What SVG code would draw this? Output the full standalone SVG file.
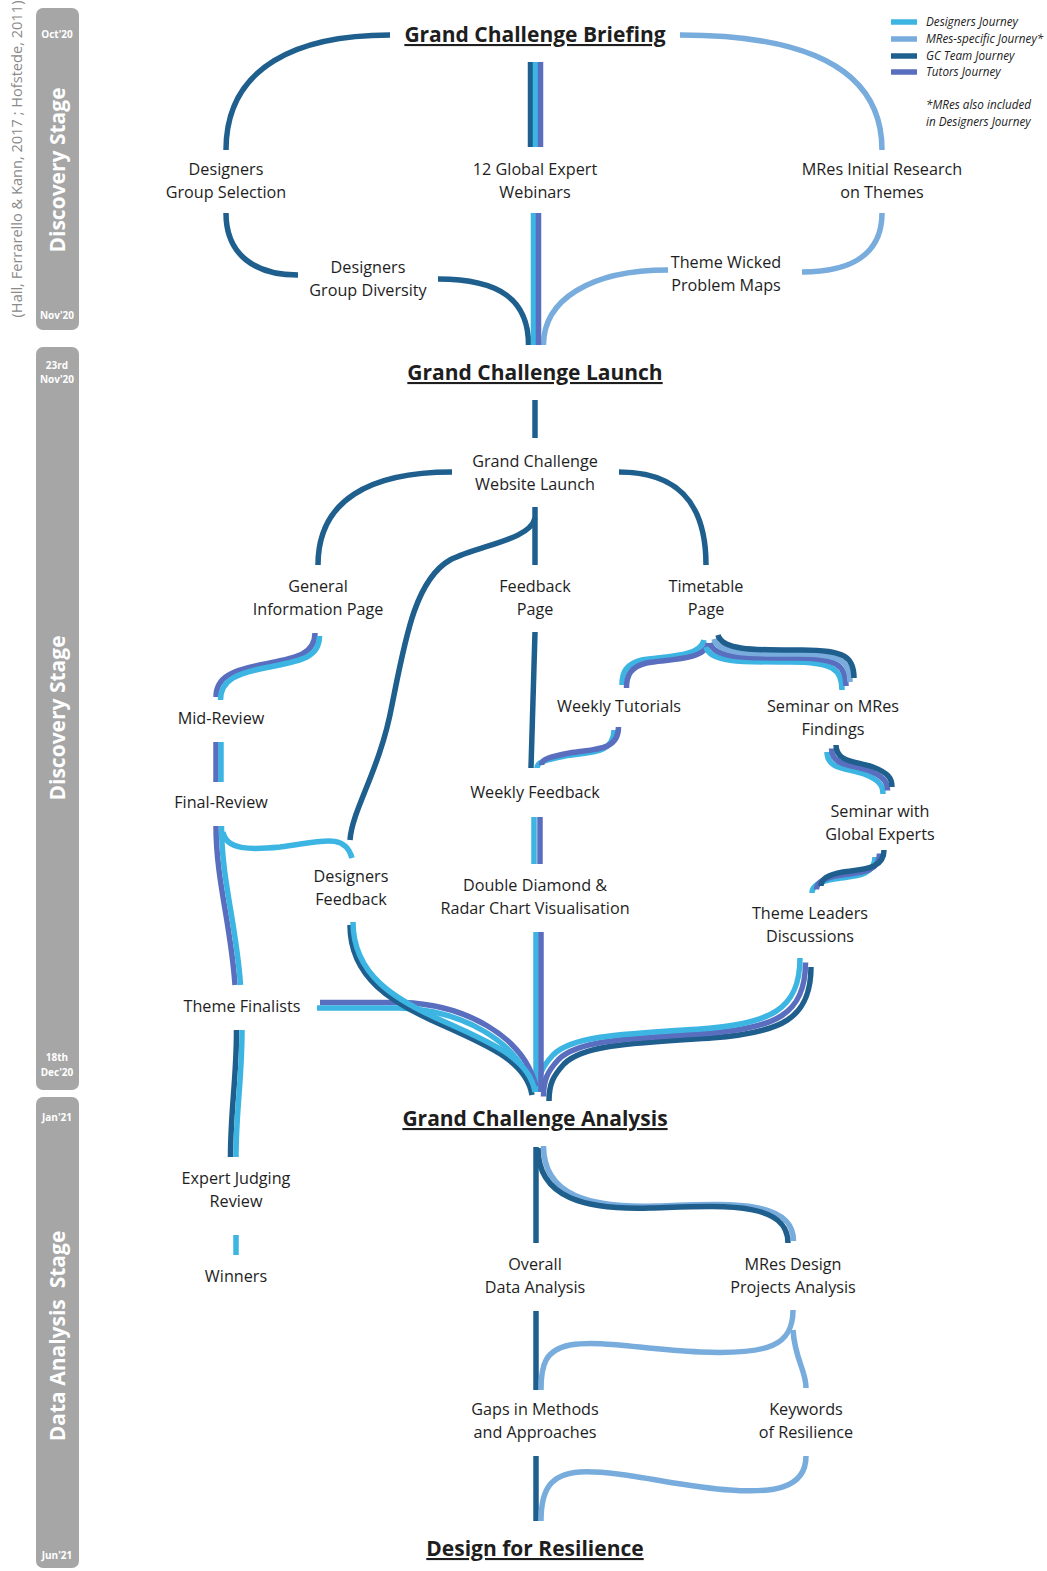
<svg xmlns="http://www.w3.org/2000/svg" xmlns:xlink="http://www.w3.org/1999/xlink" width="1047" height="1571" viewBox="0 0 1047 1571">
<style>
.lbl{font-family:"Open Sans","Liberation Sans",sans-serif;font-size:16.2px;fill:#1e1e1e;text-anchor:middle}
.ttl{font-family:"Open Sans","Liberation Sans",sans-serif;font-size:21px;font-weight:bold;fill:#1e1e1e;text-anchor:middle;text-decoration:underline}
.bar{fill:#a6a6a6}
.bt{font-family:"Open Sans","Liberation Sans",sans-serif;font-size:10px;font-weight:bold;fill:#fff;text-anchor:middle}
.bs{font-family:"Open Sans","Liberation Sans",sans-serif;font-size:21px;font-weight:bold;fill:#fff;text-anchor:middle}
.lg{font-family:"Open Sans","Liberation Sans",sans-serif;font-size:11.7px;font-style:italic;fill:#222}
.c{fill:none;stroke-width:5.5;stroke-linecap:butt}
.d{stroke:#3db5e3}
.m{stroke:#78acdc}
.g{stroke:#1f5f8e}
.t{stroke:#5a6ebf}
</style>
<defs>
<path id="p15" d="M614,730 C614,754 590,752 565,756 C545,760 537,762 537,768"/>
<path id="p16a" d="M704,640 C700,658 662,656 642,660 C626,664 622,672 622,685"/>
<path id="p16b" d="M706,647 C710,663 745,662 790,662 C833,662 842,669 842,690"/>
<path id="p17" d="M827,752 C827,770 848,768 864,774 C879,780 883,785 883,794"/>
<path id="p18" d="M875,857 C875,878 850,876 834,879 C818,882 812,886 812,893"/>
<path id="p19" d="M800,958 C800,1010 770,1024 700,1029 C620,1034 572,1036 553,1055 C542,1067 538,1075 538,1092"/>
<path id="p22" d="M353,922 C353,975 395,1000 445,1022 C495,1044 530,1060 535,1092"/>
<path id="p23" d="M317,1008 L400,1008 C460,1010 520,1040 533,1092"/>
<path id="p24" d="M315,633 C315,655 295,658 265,664 C232,670 216,677 216,697"/>
<path id="p26" d="M216,826 C216,880 231,925 235,985"/>
<path id="p28" d="M236.5,1030 C236.5,1080 230.5,1110 230.5,1157"/>
<path id="p31" d="M538,1148 C538,1198 585,1210 650,1208 C720,1206 788,1200 788,1243"/>
</defs>

<!-- stage bars -->
<g id="stage1">
<rect class="bar" x="36" y="8" width="43" height="322" rx="7"/>
<text class="bt" x="57" y="38">Oct'20</text>
<text class="bt" x="57" y="319">Nov'20</text>
<text class="bs" transform="translate(64.5,170) rotate(-90)">Discovery Stage</text>
</g>
<g id="stage2">
<rect class="bar" x="36" y="347" width="43" height="743" rx="7"/>
<text class="bt" x="57" y="369">23rd</text>
<text class="bt" x="57" y="383">Nov'20</text>
<text class="bt" x="57" y="1061">18th</text>
<text class="bt" x="57" y="1076">Dec'20</text>
<text class="bs" transform="translate(64.5,718) rotate(-90)">Discovery Stage</text>
</g>
<g id="stage3">
<rect class="bar" x="36" y="1097" width="43" height="471" rx="7"/>
<text class="bt" x="57" y="1121">Jan'21</text>
<text class="bt" x="57" y="1559">Jun'21</text>
<text class="bs" transform="translate(64.5,1336) rotate(-90)" xml:space="preserve">Data Analysis  Stage</text>
</g>
<text id="citation" transform="translate(22,159) rotate(-90)" style="font-family:'Open Sans','Liberation Sans',sans-serif;font-size:14.6px;fill:#8a8a8a;text-anchor:middle">(Hall, Ferrarello &amp; Kann, 2017 ; Hofstede, 2011)</text>

<!-- legend -->
<g id="legend">
<line class="c d" x1="891" y1="22" x2="917" y2="22" stroke-linecap="round"/>
<line class="c m" x1="891" y1="39" x2="917" y2="39" stroke-linecap="round"/>
<line class="c g" x1="891" y1="56" x2="917" y2="56" stroke-linecap="round"/>
<line class="c t" x1="891" y1="72" x2="917" y2="72" stroke-linecap="round"/>
<text class="lg" x="926" y="26">Designers Journey</text>
<text class="lg" x="926" y="43">MRes-specific Journey*</text>
<text class="lg" x="926" y="60">GC Team Journey</text>
<text class="lg" x="926" y="76">Tutors Journey</text>
<text class="lg" x="926" y="109">*MRes also included</text>
<text class="lg" x="926" y="126">in Designers Journey</text>
</g>

<!-- connectors -->
<g id="connectors">
<!-- top -->
<path class="c g" d="M390,35 C300,35 226,65 226,150"/>
<path class="c m" d="M680,35 C800,35 882,65 882,150"/>
<line class="c g" x1="530.5" y1="62" x2="530.5" y2="147" stroke-width="5"/>
<line class="c d" x1="535.5" y1="62" x2="535.5" y2="147" stroke-width="5"/>
<line class="c t" x1="540.5" y1="62" x2="540.5" y2="147" stroke-width="5"/>
<path class="c g" d="M226,213 C226,255 255,275 298,275"/>
<path class="c g" d="M438,279 C500,279 528.5,300 528.5,345"/>
<path class="c m" d="M882,213 C882,255 850,272 802,272"/>
<path class="c m" d="M668,270 C590,270 543.5,300 543.5,345"/>
<line class="c d" x1="533.5" y1="213" x2="533.5" y2="345" stroke-width="5"/>
<line class="c t" x1="538.5" y1="213" x2="538.5" y2="345" stroke-width="5"/>
<!-- launch -->
<line class="c g" x1="535" y1="400" x2="535" y2="438"/>
<path class="c g" d="M452,472 C370,472 318,500 318,565"/>
<path class="c g" d="M619,472 C675,472 706,500 706,565"/>
<line class="c g" x1="535" y1="507" x2="535" y2="565"/>
<path class="c g" d="M535,518 C530,540 480,545 450,560 C415,580 405,640 392,705 C380,770 352,810 350,840"/>
<path class="c g" d="M535,632 L531,768"/>
<use xlink:href="#p15" class="c d"/>
<use xlink:href="#p15" class="c t" transform="translate(4.5,-3)"/>
<use xlink:href="#p16a" class="c d"/>
<use xlink:href="#p16a" class="c t" transform="translate(4.5,3)"/>
<use xlink:href="#p16b" class="c d"/>
<use xlink:href="#p16b" class="c t" transform="translate(4,-4)"/>
<use xlink:href="#p16b" class="c m" transform="translate(8,-8)"/>
<use xlink:href="#p16b" class="c g" transform="translate(12,-12)"/>
<use xlink:href="#p17" class="c d"/>
<use xlink:href="#p17" class="c t" transform="translate(4.5,-3.5)"/>
<use xlink:href="#p17" class="c g" transform="translate(9,-7)"/>
<use xlink:href="#p18" class="c d"/>
<use xlink:href="#p18" class="c t" transform="translate(4.5,-3.5)"/>
<use xlink:href="#p18" class="c g" transform="translate(9,-7)"/>
<use xlink:href="#p19" class="c g" transform="translate(11,9)" stroke-width="6"/>
<use xlink:href="#p19" class="c t" transform="translate(5.5,4.5)" stroke-width="6"/>
<use xlink:href="#p19" class="c d" stroke-width="6"/>
<line class="c d" x1="534" y1="817" x2="534" y2="864" stroke-width="7"/>
<line class="c t" x1="540" y1="817" x2="540" y2="864"/>
<line class="c d" x1="536" y1="932" x2="536" y2="1092" stroke-width="6"/>
<line class="c t" x1="541" y1="932" x2="541" y2="1092" stroke-width="4"/>
<use xlink:href="#p23" class="c t" transform="translate(3,-5.5)" stroke-width="6"/>
<use xlink:href="#p23" class="c d" stroke-width="6"/>
<use xlink:href="#p22" class="c g" transform="translate(-3,3)" stroke-width="4.5"/>
<use xlink:href="#p22" class="c d" stroke-width="6"/>
<use xlink:href="#p24" class="c t"/>
<use xlink:href="#p24" class="c d" transform="translate(4.5,3)"/>
<line class="c t" x1="216" y1="742" x2="216" y2="782"/>
<line class="c d" x1="221" y1="742" x2="221" y2="782"/>
<path class="c d" d="M223,832 C226,850 250,850 280,847 C320,842 345,832 352,858"/>
<use xlink:href="#p26" class="c t"/>
<use xlink:href="#p26" class="c d" transform="translate(5.5,0)"/>
<use xlink:href="#p28" class="c g" stroke-width="6"/>
<use xlink:href="#p28" class="c d" transform="translate(5.5,0)"/>
<line class="c d" x1="236" y1="1235" x2="236" y2="1255" stroke-width="6"/>
<!-- analysis -->
<line class="c g" x1="536" y1="1147" x2="536" y2="1243" stroke-width="6"/>
<use xlink:href="#p31" class="c m" transform="translate(5.5,-2)" stroke-width="6"/>
<use xlink:href="#p31" class="c g" stroke-width="6"/>
<line class="c g" x1="536" y1="1311" x2="536" y2="1390" stroke-width="6"/>
<path class="c m" d="M793,1310 C793,1345 770,1355 700,1352 C640,1349 600,1340 570,1345 C545,1350 541,1365 541,1390"/>
<path class="c m" d="M793,1330 C795,1360 806,1370 806,1388"/>
<line class="c g" x1="536" y1="1456" x2="536" y2="1521" stroke-width="6"/>
<path class="c m" d="M806,1456 C806,1490 770,1493 730,1490 C680,1487 620,1470 580,1472 C550,1474 541,1490 541,1521"/>
</g>

<!-- titles -->
<g id="n-briefing"><text class="ttl" x="535" y="42">Grand Challenge Briefing</text></g>
<g id="n-launch"><text class="ttl" x="535" y="380">Grand Challenge Launch</text></g>
<g id="n-analysis"><text class="ttl" x="535" y="1126">Grand Challenge Analysis</text></g>
<g id="n-resilience"><text class="ttl" x="535" y="1556">Design for Resilience</text></g>

<!-- nodes -->
<g id="n-group-selection"><text class="lbl" x="226" y="175">Designers</text><text class="lbl" x="226" y="198">Group Selection</text></g>
<g id="n-webinars"><text class="lbl" x="535" y="175">12 Global Expert</text><text class="lbl" x="535" y="198">Webinars</text></g>
<g id="n-mres-initial"><text class="lbl" x="882" y="175">MRes Initial Research</text><text class="lbl" x="882" y="198">on Themes</text></g>
<g id="n-group-diversity"><text class="lbl" x="368" y="273">Designers</text><text class="lbl" x="368" y="296">Group Diversity</text></g>
<g id="n-wicked"><text class="lbl" x="726" y="268">Theme Wicked</text><text class="lbl" x="726" y="291">Problem Maps</text></g>
<g id="n-website"><text class="lbl" x="535" y="467">Grand Challenge</text><text class="lbl" x="535" y="490">Website Launch</text></g>
<g id="n-general"><text class="lbl" x="318" y="592">General</text><text class="lbl" x="318" y="615">Information Page</text></g>
<g id="n-feedback-page"><text class="lbl" x="535" y="592">Feedback</text><text class="lbl" x="535" y="615">Page</text></g>
<g id="n-timetable"><text class="lbl" x="706" y="592">Timetable</text><text class="lbl" x="706" y="615">Page</text></g>
<g id="n-mid"><text class="lbl" x="221" y="724">Mid-Review</text></g>
<g id="n-tutorials"><text class="lbl" x="619" y="712">Weekly Tutorials</text></g>
<g id="n-seminar-mres"><text class="lbl" x="833" y="712">Seminar on MRes</text><text class="lbl" x="833" y="735">Findings</text></g>
<g id="n-final"><text class="lbl" x="221" y="808">Final-Review</text></g>
<g id="n-weekly-feedback"><text class="lbl" x="535" y="798">Weekly Feedback</text></g>
<g id="n-seminar-global"><text class="lbl" x="880" y="817">Seminar with</text><text class="lbl" x="880" y="840">Global Experts</text></g>
<g id="n-designers-feedback"><text class="lbl" x="351" y="882">Designers</text><text class="lbl" x="351" y="905">Feedback</text></g>
<g id="n-diamond"><text class="lbl" x="535" y="891">Double Diamond &amp;</text><text class="lbl" x="535" y="914">Radar Chart Visualisation</text></g>
<g id="n-leaders"><text class="lbl" x="810" y="919">Theme Leaders</text><text class="lbl" x="810" y="942">Discussions</text></g>
<g id="n-finalists"><text class="lbl" x="242" y="1012">Theme Finalists</text></g>
<g id="n-judging"><text class="lbl" x="236" y="1184">Expert Judging</text><text class="lbl" x="236" y="1207">Review</text></g>
<g id="n-winners"><text class="lbl" x="236" y="1282">Winners</text></g>
<g id="n-overall"><text class="lbl" x="535" y="1270">Overall</text><text class="lbl" x="535" y="1293">Data Analysis</text></g>
<g id="n-mres-design"><text class="lbl" x="793" y="1270">MRes Design</text><text class="lbl" x="793" y="1293">Projects Analysis</text></g>
<g id="n-gaps"><text class="lbl" x="535" y="1415">Gaps in Methods</text><text class="lbl" x="535" y="1438">and Approaches</text></g>
<g id="n-keywords"><text class="lbl" x="806" y="1415">Keywords</text><text class="lbl" x="806" y="1438">of Resilience</text></g>
</svg>
